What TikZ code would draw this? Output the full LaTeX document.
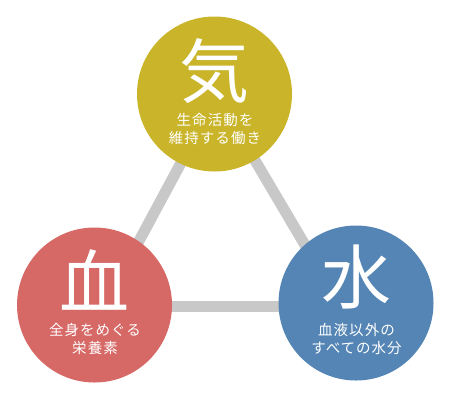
\documentclass[tikz,border=0pt]{standalone}
\usepackage{fontspec}
\newfontfamily\cjk{Noto Sans CJK JP}
\newfontfamily\cjkspaced{Noto Sans CJK JP}[LetterSpace=7]
\definecolor{kigold}{HTML}{C9B42A}
\definecolor{ketsured}{HTML}{D66866}
\definecolor{suiblue}{HTML}{5485B4}
\definecolor{linkgray}{HTML}{C8C8C8}
\begin{document}
\begin{tikzpicture}[x=1bp,y=-1bp,
  elem/.style={circle,minimum size=155bp,inner sep=0pt,draw=none},
  bigchar/.style={text=white,font=\cjk\fontsize{70bp}{70bp}\selectfont,inner sep=0pt},
  desc/.style={text=white,align=center,font=\cjkspaced\fontsize{14.5bp}{18bp}\selectfont,inner sep=0pt},
  link/.style={draw=linkgray,line width=11bp}]
\useasboundingbox (0,0) rectangle (450,400);
\coordinate (tT) at (217,96);
\coordinate (tL) at (104,306);
\coordinate (tR) at (341,306);
\draw[link] (tT) -- (tL);
\draw[link] (tT) -- (tR);
\draw[link] (tL) -- (tR);
\node[elem,fill=kigold] (ki) at (214.5,94) {};
\node[elem,fill=ketsured] (ketsu) at (94.5,305) {};
\node[elem,fill=suiblue] (sui) at (356,303) {};
\node[bigchar] (kiC) at ([yshift=23bp]ki.center) {気};
\node[desc] (kiD) at ([xshift=0.5bp,yshift=-35bp]ki.center) {生命活動を\\維持する働き};
\node[bigchar] (ketsuC) at ([yshift=25bp]ketsu.center) {血};
\node[desc] (ketsuD) at ([xshift=0.5bp,yshift=-34bp]ketsu.center) {全身をめぐる\\栄養素};
\node[bigchar] (suiC) at ([yshift=26bp]sui.center) {水};
\node[desc] (suiD) at ([xshift=0.5bp,yshift=-36bp]sui.center) {血液以外の\\すべての水分};
\end{tikzpicture}
\end{document}
